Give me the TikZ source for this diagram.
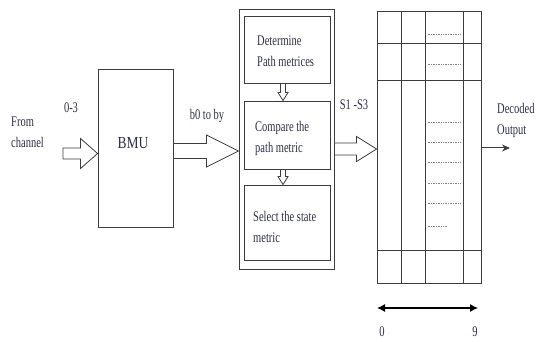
\documentclass[tikz,border=0pt]{standalone}
\usepackage{fontspec}
\usepackage{graphicx}
\setmainfont{Liberation Serif}
\usetikzlibrary{calc,arrows.meta}
\definecolor{ink}{RGB}{45,45,70}
\definecolor{edge}{RGB}{60,60,60}
\newcommand\stxt[1]{\scalebox{1}[1.4]{\begin{tabular}{@{}l@{}}#1\end{tabular}}}
\newcommand\harrow[5]{\draw[hollow] let \p1=#1, \p2=#2 in
  (\x1,{\y2+#3}) -- ({\x2-#5},{\y2+#3}) -- ({\x2-#5},{\y2+#4}) -- (\x2,\y2)
  -- ({\x2-#5},{\y2-#4}) -- ({\x2-#5},{\y2-#3}) -- (\x1,{\y2-#3}) -- cycle;}
\newcommand\varrow[5]{\draw[hollow] let \p1=#1, \p2=#2 in
  ({\x2-#3},\y1) -- ({\x2-#3},{\y2+#5}) -- ({\x2-#4},{\y2+#5}) -- (\x2,\y2)
  -- ({\x2+#4},{\y2+#5}) -- ({\x2+#3},{\y2+#5}) -- ({\x2+#3},\y1) -- cycle;}
\tikzset{
  box/.style={draw=edge, line width=0.9pt, inner sep=0pt},
  hollow/.style={draw=edge, line width=0.8pt, fill=white, line join=miter},
  txt/.style={text=ink, font=\fontsize{10.5}{14.5}\selectfont, inner sep=0pt},
  dots/.style={draw=gray, densely dotted, line width=0.7pt},
  gline/.style={draw=edge, line width=0.9pt},
}
\begin{document}
\begin{tikzpicture}[x=1pt,y=-1pt]
\useasboundingbox (0,0) rectangle (538,342);

% blocks
\node[box, minimum width=75pt, minimum height=158pt] (bmu) at (135.5,148) {};
\node[box, minimum width=95pt, minimum height=260pt] (acs) at (286.5,139) {};
\node[box, minimum width=86pt, minimum height=67pt] (b1) at (287,49.5) {};
\node[box, minimum width=86pt, minimum height=68pt] (b2) at (287,135) {};
\node[box, minimum width=86pt, minimum height=75pt] (b3) at (287,222.5) {};
\node[box, minimum width=104pt, minimum height=272pt] (grid) at (429,147) {};

% grid lines
\foreach \dx in {25,49,87}
  \draw[gline] ([xshift=\dx pt]grid.north west) -- ([xshift=\dx pt]grid.south west);
\foreach \dy in {33,70,240}
  \draw[gline] ([yshift=-\dy pt]grid.north west) -- ([yshift=-\dy pt]grid.north east);
\foreach \dy in {24,54,112,132,152,173,193}
  \draw[dots] ([xshift=51pt,yshift=-\dy pt]grid.north west) -- ([xshift=85pt,yshift=-\dy pt]grid.north west);
\draw[dots] ([xshift=51pt,yshift=-216pt]grid.north west) -- ([xshift=71pt,yshift=-216pt]grid.north west);

% texts
\node[txt, anchor=west] (from) at (11,133) {\stxt{From\\channel}};
\node[txt] (l03) at (71,108) {\stxt{0-3}};
\node[txt, font=\fontsize{13.5}{16}\selectfont] (bmut) at (133,143) {\scalebox{1}[1.25]{BMU}};
\node[txt] (lb) at (207,115) {\stxt{b0 to by}};
\node[txt, anchor=west] (t1) at (257,52) {\stxt{Determine\\Path metrices}};
\node[txt, anchor=west] (t2) at (255,138) {\stxt{Compare the\\path metric}};
\node[txt, anchor=west] (t3) at (253,228) {\stxt{Select the state\\metric}};
\node[txt] (ls) at (354,105) {\stxt{S1 -S3}};
\node[txt, anchor=west] (dec) at (497,120) {\stxt{Decoded\\Output}};
\node[txt] (n0) at (382,332) {\stxt{0}};
\node[txt] (n9) at (475,332) {\stxt{9}};

% hollow arrows
\coordinate (in) at (63,153.5);
\harrow{(in)}{([yshift=-5.5pt]bmu.west)}{5.5pt}{15pt}{17pt}
\harrow{([yshift=-3pt]bmu.east)}{([yshift=-12pt]acs.west)}{7.5pt}{16pt}{32pt}
\harrow{([yshift=-10pt]acs.east)}{([yshift=-2pt]grid.west)}{6pt}{12.5pt}{20pt}
\varrow{([xshift=-4pt]b1.south)}{([xshift=-4pt]b2.north)}{2.5pt}{5pt}{8pt}
\varrow{([xshift=-4pt]b2.south)}{([xshift=-4pt]b3.north)}{2.5pt}{5pt}{8pt}

% output and scale arrows
\coordinate (out) at (510,148);
\draw[edge, line width=1pt, -{Stealth[length=8pt,width=7pt]}] ([yshift=-1pt]grid.east) -- (out);
\coordinate (d0) at (377,308);
\coordinate (d9) at (478,308);
\draw[black, line width=1.1pt, {Latex[length=8pt,width=8pt]}-{Latex[length=8pt,width=8pt]}] (d0) -- (d9);
\end{tikzpicture}
\end{document}
